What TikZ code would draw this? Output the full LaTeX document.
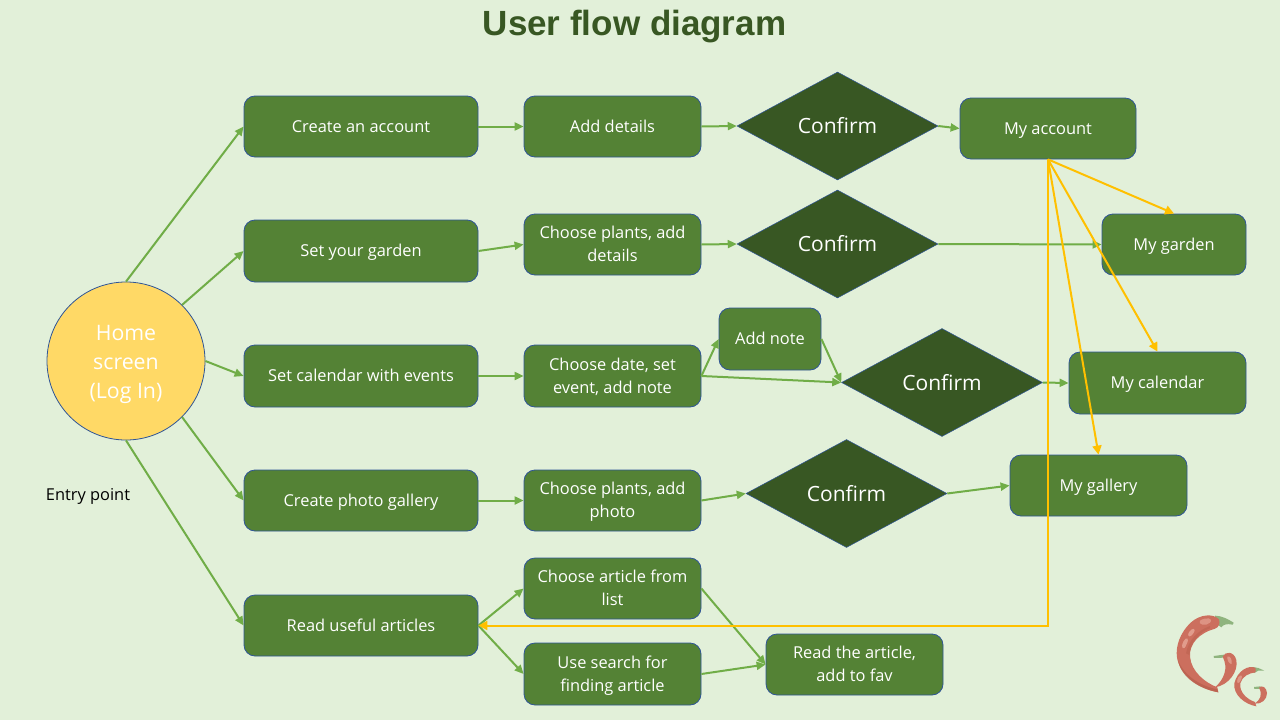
\documentclass[tikz,border=0pt]{standalone}
\usepackage{fontspec}
\setmainfont{Open Sans}
\newfontfamily\titlefont{Liberation Sans}
\usetikzlibrary{shapes.geometric,arrows.meta}
\definecolor{bgc}{HTML}{E2F0D9}
\definecolor{boxc}{HTML}{548235}
\definecolor{edgec}{HTML}{2F5597}
\definecolor{darkc}{HTML}{385723}
\definecolor{sunc}{HTML}{FFD966}
\definecolor{linec}{HTML}{70AD47}
\definecolor{yelc}{HTML}{FFC000}
\definecolor{chilic}{HTML}{CC6F5E}
\definecolor{chilid}{HTML}{B9604E}
\definecolor{chilih}{HTML}{E9AC9C}
\definecolor{stemc}{HTML}{8FB47E}
\tikzset{
 x=1pt,y=-1pt,
 stepbox/.style={draw=edgec,line width=.8pt,fill=boxc,rounded corners=11pt,text=white,align=center,font=\fontsize{16.4}{23}\selectfont,inner sep=0pt},
 choice/.style={diamond,draw=edgec,line width=.5pt,fill=darkc,text=white,aspect=1.86,minimum width=201pt,minimum height=108pt,inner sep=0pt,font=\fontsize{21}{24}\selectfont},
 flow/.style={draw=linec,line width=2pt,-{Triangle[length=9pt,width=8pt]}},
 back/.style={draw=yelc,line width=2pt,-{Triangle[length=9pt,width=9pt]}},
}
\newcommand{\bx}[6]{\node[stepbox,minimum width=#4pt-#3pt,minimum height=#6pt-#5pt] (#1) at ({(#3+#4)/2},{(#5+#6)/2}) {\rule{0pt}{15pt}#2\rule[-4pt]{0pt}{4pt}};}
\begin{document}
\begin{tikzpicture}
\useasboundingbox (0,0) rectangle (1280,720);
\fill[bgc] (0,0) rectangle (1280,720);
\node[font=\titlefont\bfseries\fontsize{35}{40}\selectfont,text=darkc] (title) at (634.5,27) {User flow diagram};
\node[circle,draw=edgec,line width=.8pt,fill=sunc,text=white,minimum size=158pt,inner sep=0pt,align=center,font=\fontsize{21.3}{29}\selectfont] (home) at (126,361) {\rule{0pt}{23pt}Home\\screen\\(Log In)\rule[-5pt]{0pt}{5pt}};
\node[font=\fontsize{16.4}{20}\selectfont,text=black] (entry) at (88,495) {\rule{0pt}{15pt}Entry point\rule[-4pt]{0pt}{4pt}};
\bx{create}{Create an account}{244}{478}{96}{157}
\bx{details}{Add details}{524}{701}{96}{157}
\bx{account}{My account}{960}{1136}{98}{159}
\bx{setg}{Set your garden}{244}{478}{220}{282}
\bx{plants}{Choose plants, add\\details}{524}{701}{214}{275}
\bx{garden}{My garden}{1102}{1246}{214}{275}
\bx{setc}{Set calendar with events}{244}{478}{345}{407}
\bx{date}{Choose date, set\\event, add note}{524}{701}{345}{407}
\bx{note}{Add note}{719}{821}{308}{370}
\bx{calendar}{My calendar}{1069}{1246}{352}{414}
\bx{setp}{Create photo gallery}{244}{478}{470}{531}
\bx{photo}{Choose plants, add\\photo}{524}{701}{470}{531}
\bx{gallery}{My gallery}{1010}{1187}{455}{516}
\bx{articles}{Read useful articles}{244}{478}{595}{656}
\bx{list}{Choose article from\\list}{524}{701}{558}{619}
\bx{search}{Use search for\\finding article}{524}{701}{643}{705}
\bx{read}{Read the article,\\add to fav}{766}{943}{634}{695}
\node[choice] (c1) at (837.5,126) {Confirm};
\node[choice] (c2) at (837.5,244) {Confirm};
\node[choice] (c3) at (942,382.5) {Confirm};
\node[choice] (c4) at (846.5,493.5) {Confirm};
\draw[flow] (home.north) -- (create.west);
\draw[flow] (home.45) -- (setg.west);
\draw[flow] (home.east) -- (setc.west);
\draw[flow] (home.-45) -- (setp.west);
\draw[flow] (home.south) -- (articles.west);
\draw[flow] (create.east) -- (details.west);
\draw[flow] (details.east) -- (c1.west);
\draw[flow] (c1.east) -- (account.west);
\draw[flow] (setg.east) -- (plants.west);
\draw[flow] (plants.east) -- (c2.west);
\draw[flow] (c2.east) -- (garden.west);
\draw[flow] (setc.east) -- (date.west);
\draw[flow] (date.east) -- (note.west);
\draw[flow] (date.east) -- (c3.west);
\draw[flow] (note.east) -- (c3.west);
\draw[flow] (c3.east) -- (calendar.west);
\draw[flow] (setp.east) -- (photo.west);
\draw[flow] (photo.east) -- (c4.west);
\draw[flow] (c4.east) -- (gallery.west);
\draw[flow] (articles.east) -- (list.west);
\draw[flow] (articles.east) -- (search.west);
\draw[flow] (list.east) -- (read.west);
\draw[flow] (search.east) -- (read.west);
\draw[back] (account.south) -- (garden.north);
\draw[back] (account.south) -- (calendar.north);
\draw[back] (account.south) -- (gallery.north);
\draw[back] (account.south) -- (account.south |- articles.east) -- (articles.east);
% chilies
\begin{scope}[shift={(1150,600)},x=.3333pt,y=-.3333pt]
 \fill[stemc] (195,47) .. controls (215,47) and (235,58) .. (251,68) -- (248,74) .. controls (235,72) and (222,70) .. (214,82) -- (200,72) -- cycle;
 \fill[chilic] (207,58) .. controls (190,40) and (150,42) .. (122,68) .. controls (90,98) and (76,140) .. (81,172) .. controls (88,222) and (140,265) .. (205,277) -- (202,262) .. controls (165,248) and (124,215) .. (120,170) .. controls (117,130) and (150,98) .. (195,86) .. controls (207,82) and (211,70) .. (207,58) -- cycle;
 \fill[chilih,opacity=.75] (118,95) .. controls (128,82) and (140,84) .. (130,100) .. controls (122,114) and (108,112) .. (118,95) -- cycle;
 \fill[chilih,opacity=.75] (100,125) .. controls (108,108) and (120,114) .. (110,132) .. controls (102,155) and (90,145) .. (100,125) -- cycle;
 \fill[chilih,opacity=.6] (150,62) .. controls (168,50) and (192,54) .. (180,68) .. controls (168,80) and (142,74) .. (150,62) -- cycle;
 \fill[chilid,opacity=.8] (84,180) .. controls (100,225) and (150,258) .. (202,268) -- (205,277) .. controls (140,265) and (92,228) .. (84,180) -- cycle;
 \fill[chilid,opacity=.5] (180,85) .. controls (150,95) and (122,125) .. (118,165) -- (108,160) .. controls (115,120) and (145,90) .. (180,78) -- cycle;
 \fill[stemc] (191,168) -- (222,164) -- (222,173) -- (192,174) -- cycle;
 \fill[chilic] (218,170) .. controls (225,153) and (252,153) .. (259,180) .. controls (266,215) and (235,256) .. (195,262) .. controls (222,238) and (236,205) .. (218,170) -- cycle;
 \fill[chilih,opacity=.65] (232,170) .. controls (240,166) and (247,178) .. (245,192) .. controls (238,192) and (231,182) .. (232,170) -- cycle;
 \fill[stemc] (308,201) -- (325,204) -- (343,212) -- (325,212) -- (312,219) -- cycle;
 \fill[chilic] (317,204) .. controls (295,193) and (262,213) .. (253,250) .. controls (249,285) and (285,313) .. (319,319) -- (315,306) .. controls (290,298) and (267,275) .. (271,250) .. controls (276,230) and (296,219) .. (317,217) -- cycle;
 \fill[chilih,opacity=.65] (265,232) .. controls (273,222) and (280,226) .. (273,240) .. controls (266,256) and (256,250) .. (265,232) -- cycle;
 \fill[stemc] (312,261) -- (332,259) -- (332,266) -- (313,267) -- cycle;
 \fill[chilic] (327,263) .. controls (335,254) and (351,262) .. (351,280) .. controls (351,298) and (335,313) .. (314,311) .. controls (330,300) and (339,285) .. (327,263) -- cycle;
\end{scope}
\end{tikzpicture}
\end{document}
